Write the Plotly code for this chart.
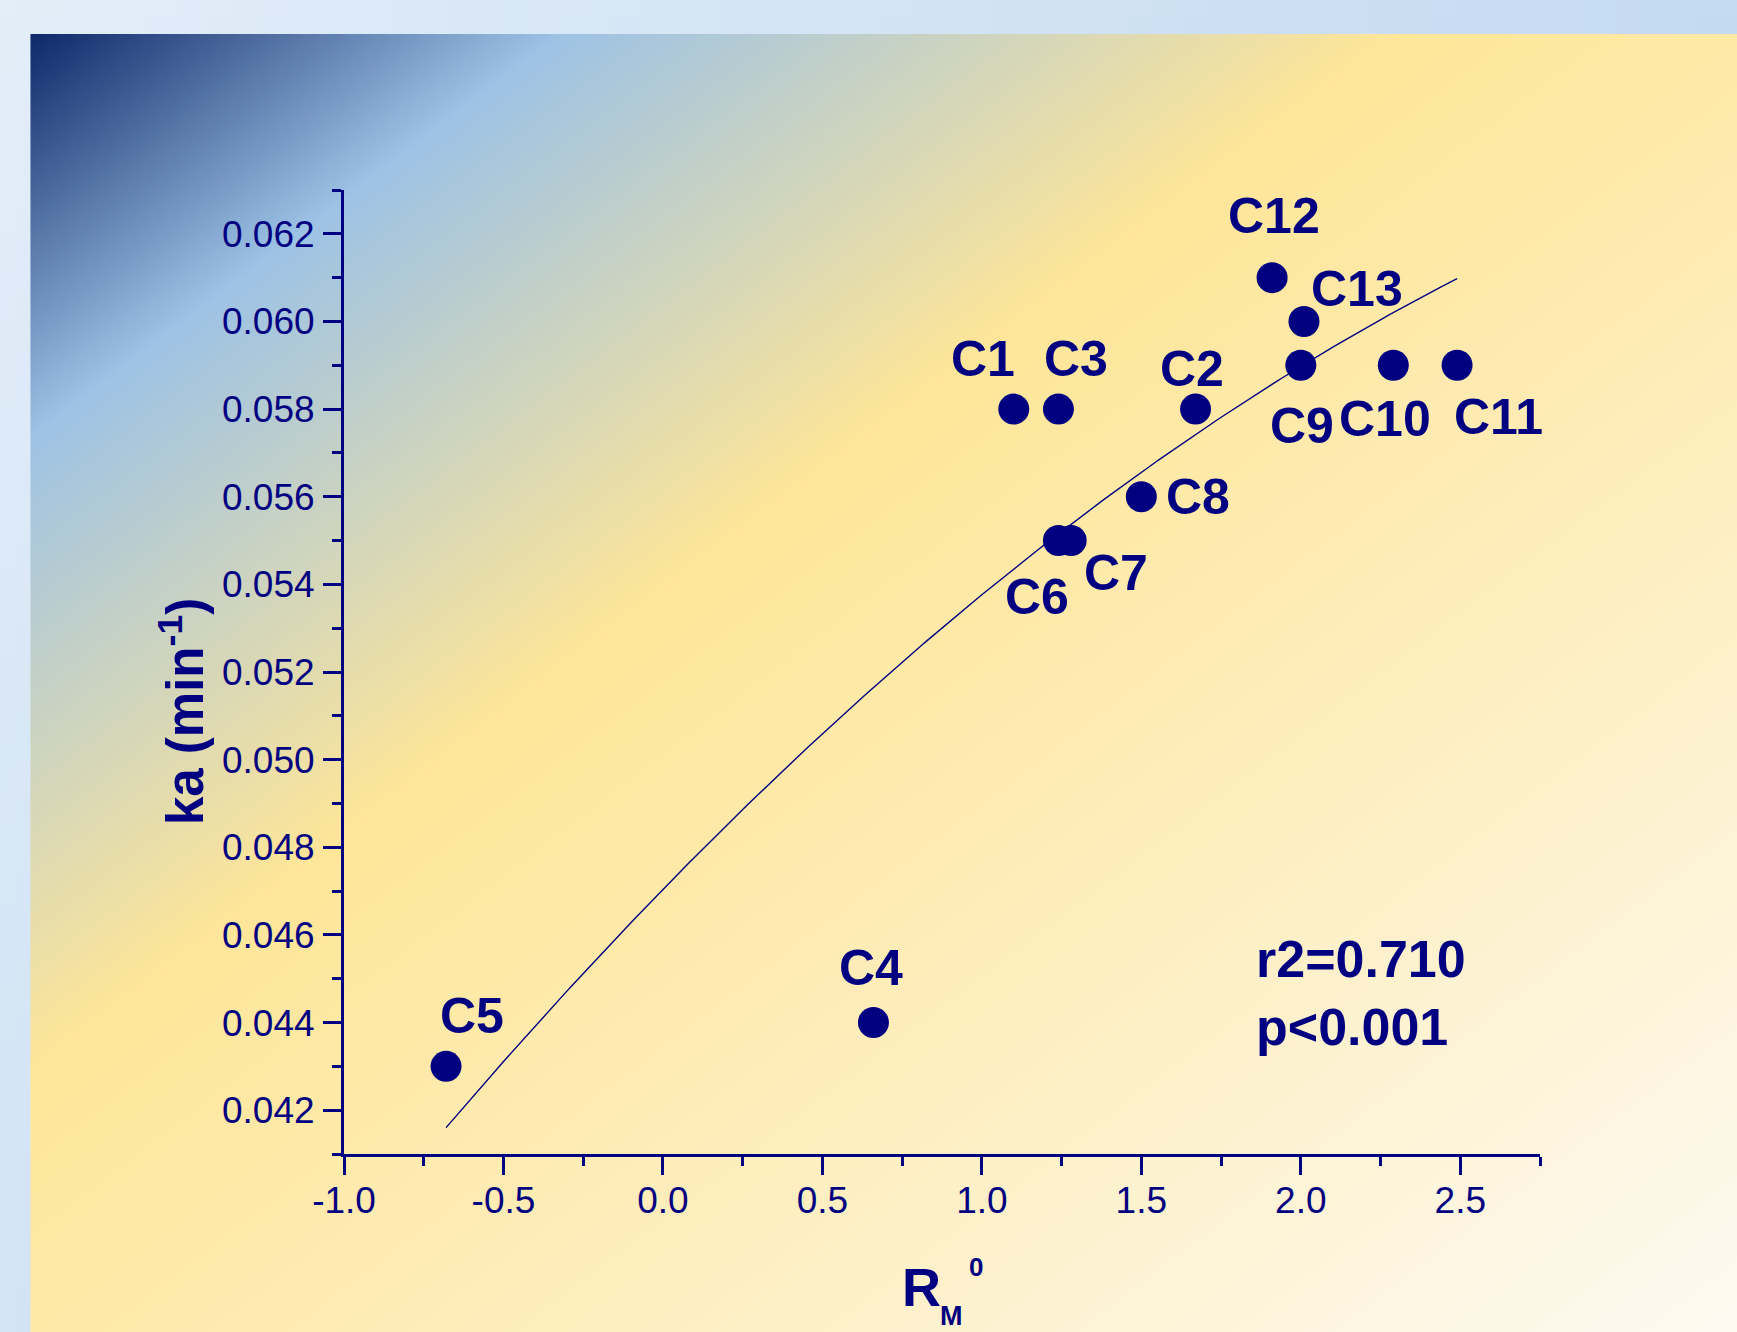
import base64
import struct
import zlib

import numpy as np
import plotly.graph_objects as go

# ---------------- data ----------------
compounds = ["C1", "C2", "C3", "C4", "C5", "C6", "C7", "C8", "C9", "C10", "C11", "C12", "C13"]
rm0 = [1.10, 1.67, 1.24, 0.66, -0.68, 1.24, 1.28, 1.50, 2.00, 2.29, 2.49, 1.91, 2.01]
ka = [0.058, 0.058, 0.058, 0.044, 0.043, 0.055, 0.055, 0.056, 0.059, 0.059, 0.059, 0.061, 0.060]

x_tickvals = [-1.0, -0.5, 0.0, 0.5, 1.0, 1.5, 2.0, 2.5]
x_ticktext = ["-1.0", "-0.5", "0.0", "0.5", "1.0", "1.5", "2.0", "2.5"]
y_tickvals = [0.042, 0.044, 0.046, 0.048, 0.050, 0.052, 0.054, 0.056, 0.058, 0.060, 0.062]
y_ticktext = ["0.042", "0.044", "0.046", "0.048", "0.050", "0.052", "0.054", "0.056", "0.058", "0.060", "0.062"]

stats_lines = ["r2=0.710", "p&lt;0.001"]

# ---------------- styling / layout ----------------
NAVY = "#000080"
FONT = "Liberation Sans, Arial, sans-serif"
W, H = 1737, 1332
ML, MR, MT, MB = 344.4, 197.1, 190.0, 178.0
PW, PH = W - ML - MR, H - MT - MB

# label offsets in pixels (dx right, dy down) relative to each point
label_offsets = {
    "C1": (-31, -50), "C2": (-4, -40), "C3": (18, -50), "C4": (-2, -55),
    "C5": (26, -50), "C6": (-21, 56), "C7": (45, 32), "C8": (57, 0),
    "C9": (1, 61), "C10": (-8, 54), "C11": (41, 52), "C12": (2, -62),
    "C13": (53, -32),
}


def px_x(X):
    return (X - ML) / PW


def px_y(Y):
    return (H - MB - Y) / PH


def png_uri(arr):
    h, w, _ = arr.shape
    raw = b"".join(b"\x00" + arr[i].tobytes() for i in range(h))

    def chunk(tag, data):
        return (struct.pack(">I", len(data)) + tag + data
                + struct.pack(">I", zlib.crc32(tag + data) & 0xFFFFFFFF))

    png = (b"\x89PNG\r\n\x1a\n"
           + chunk(b"IHDR", struct.pack(">IIBBBBB", w, h, 8, 2, 0, 0, 0))
           + chunk(b"IDAT", zlib.compress(raw, 9))
           + chunk(b"IEND", b""))
    return "data:image/png;base64," + base64.b64encode(png).decode()


def hex2rgb(h):
    h = h.lstrip("#")
    return [int(h[i:i + 2], 16) for i in (0, 2, 4)]


# panel gradient (diagonal, scaled with shape)
pan_x0, pan_y0 = 31, 34
pan_w, pan_h = W - pan_x0, H - pan_y0
gw, gh = pan_w // 3, pan_h // 3
xn = (np.arange(gw) + 0.5) / gw
yn = (np.arange(gh) + 0.5) / gh
u = (xn[None, :] + yn[:, None]) / 2.0
stops = [0.0, 0.155, 0.40, 1.0]
cols = [hex2rgb(c) for c in ["#0e2a6a", "#9ec3e6", "#ffe699", "#fdfaf2"]]
panel = np.zeros((gh, gw, 3), dtype=np.uint8)
for ch in range(3):
    panel[:, :, ch] = np.clip(np.interp(u, stops, [c[ch] for c in cols]), 0, 255).astype(np.uint8)

# frame gradient (bilinear between corners)
fw, fh = 64, 48
fx = np.linspace(0, 1, fw)[None, :, None]
fy = np.linspace(0, 1, fh)[:, None, None]
tl, tr = np.array(hex2rgb("#e3eef9")), np.array(hex2rgb("#c5dbf1"))
bl, br = np.array(hex2rgb("#d3e4f5")), np.array(hex2rgb("#c2d8ef"))
frame = (tl * (1 - fx) * (1 - fy) + tr * fx * (1 - fy) + bl * (1 - fx) * fy + br * fx * fy)
frame = np.clip(frame, 0, 255).astype(np.uint8)

# ---------------- figure ----------------
coefs = np.polyfit(rm0, ka, 2)
fit_x = np.linspace(min(rm0), max(rm0), 300)
fit_y = np.polyval(coefs, fit_x)

fig = go.Figure()
fig.add_trace(go.Scatter(x=fit_x, y=fit_y, mode="lines",
                         line=dict(color=NAVY, width=1.4), hoverinfo="skip",
                         showlegend=False))
fig.add_trace(go.Scatter(x=rm0, y=ka, mode="markers", text=compounds,
                         marker=dict(size=31, color=NAVY, line=dict(width=0)),
                         showlegend=False))

annotations = []
for name, xv, yv in zip(compounds, rm0, ka):
    dx, dy = label_offsets[name]
    annotations.append(dict(x=xv, y=yv, xref="x", yref="y", text=name, showarrow=False,
                            xanchor="center", yanchor="middle", xshift=dx, yshift=-dy,
                            font=dict(family=FONT, size=50, color=NAVY, weight="bold")))

# statistics text
annotations.append(dict(x=px_x(1254), y=px_y(992.5), xref="paper", yref="paper",
                        text="<br>".join(stats_lines), showarrow=False, align="left",
                        xanchor="left", yanchor="middle",
                        font=dict(family=FONT, size=52, color=NAVY, weight="bold")))

# y axis title
annotations.append(dict(x=px_x(182), y=px_y(711.5), xref="paper", yref="paper",
                        text="ka (min<sup>-1</sup>)", showarrow=False, textangle=-90,
                        xanchor="center", yanchor="middle",
                        font=dict(family=FONT, size=51, color=NAVY, weight="bold")))

# x axis title  R_M^0
annotations.append(dict(x=px_x(922), y=px_y(1287), xref="paper", yref="paper", text="R",
                        showarrow=False, xanchor="center", yanchor="middle",
                        font=dict(family=FONT, size=54, color=NAVY, weight="bold")))
annotations.append(dict(x=px_x(952), y=px_y(1316), xref="paper", yref="paper", text="M",
                        showarrow=False, xanchor="center", yanchor="middle",
                        font=dict(family=FONT, size=27, color=NAVY, weight="bold")))
annotations.append(dict(x=px_x(976), y=px_y(1266.5), xref="paper", yref="paper", text="0",
                        showarrow=False, xanchor="center", yanchor="middle",
                        font=dict(family=FONT, size=26, color=NAVY, weight="bold")))

images = [
    dict(source=png_uri(frame), xref="paper", yref="paper", x=px_x(0), y=px_y(0),
         sizex=W / PW, sizey=H / PH, xanchor="left", yanchor="top",
         sizing="stretch", layer="below"),
    dict(source=png_uri(panel), xref="paper", yref="paper", x=px_x(pan_x0), y=px_y(pan_y0),
         sizex=pan_w / PW, sizey=pan_h / PH, xanchor="left", yanchor="top",
         sizing="stretch", layer="below"),
]

axis_common = dict(
    showline=True, linewidth=3, linecolor=NAVY, mirror=False,
    showgrid=False, zeroline=False,
    ticks="outside", ticklen=18, tickwidth=3, tickcolor=NAVY,
    tickfont=dict(family=FONT, size=37, color=NAVY),
)

fig.update_layout(
    width=W, height=H,
    margin=dict(l=ML, r=MR, t=MT, b=MB, pad=0, autoexpand=False),
    paper_bgcolor="#dce9f6", plot_bgcolor="rgba(0,0,0,0)",
    images=images, annotations=annotations, showlegend=False,
    xaxis=dict(range=[-1.0, 2.75], tickmode="array", tickvals=x_tickvals, ticktext=x_ticktext,
               minor=dict(dtick=0.25, tick0=-1.0, ticks="outside", ticklen=9, tickwidth=3,
                          tickcolor=NAVY, showgrid=False),
               ticklabelstandoff=-6, **axis_common),
    yaxis=dict(range=[0.041, 0.063], tickmode="array", tickvals=y_tickvals, ticktext=y_ticktext,
               minor=dict(dtick=0.001, tick0=0.041, ticks="outside", ticklen=9, tickwidth=3,
                          tickcolor=NAVY, showgrid=False),
               ticklabelstandoff=1, **axis_common),
)

fig.write_html(
    "out.html",
    config={"displayModeBar": False},
    post_script="document.body.style.margin='0px';document.body.style.overflow='hidden';",
)
